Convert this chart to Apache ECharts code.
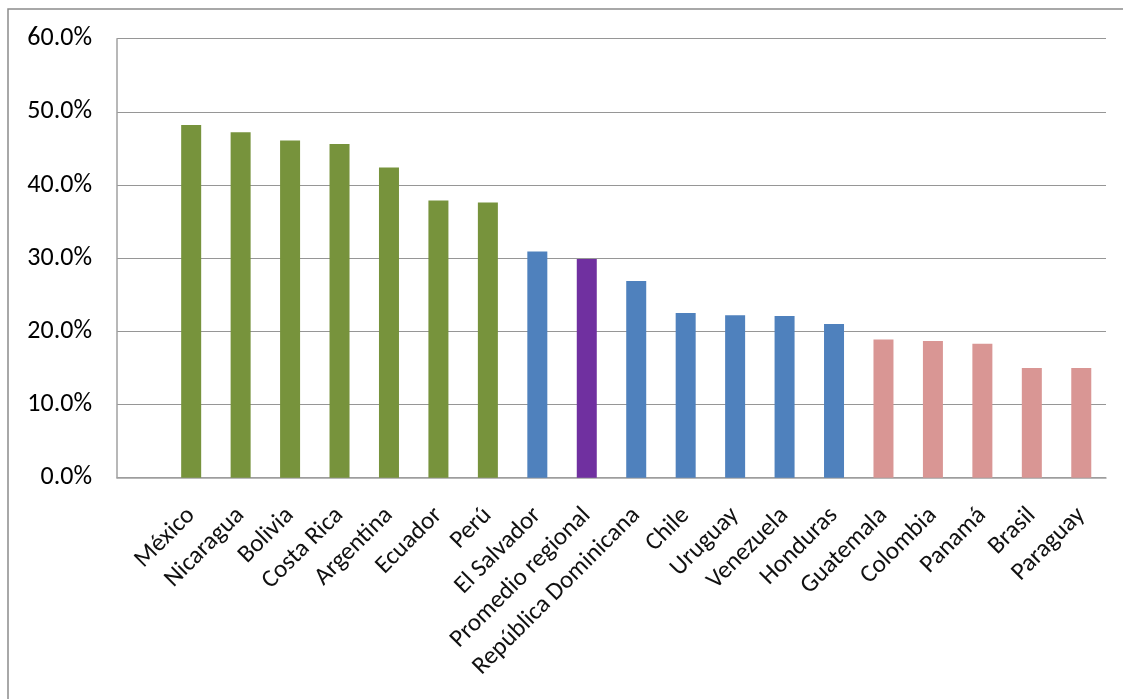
<!DOCTYPE html>
<html>
<head>
<meta charset="utf-8">
<script src="https://cdn.jsdelivr.net/npm/echarts@6/dist/echarts.min.js"></script>
<style>
html,body{margin:0;padding:0;background:#fff;}
#chart{width:1123px;height:699px;}
</style>
</head>
<body>
<div id="chart"></div>
<script>
// Categories (the source chart has a blank leading category slot)
const categories = ['', 'México', 'Nicaragua', 'Bolivia', 'Costa Rica', 'Argentina', 'Ecuador', 'Perú',
  'El Salvador', 'Promedio regional', 'República Dominicana', 'Chile', 'Uruguay', 'Venezuela',
  'Honduras', 'Guatemala', 'Colombia', 'Panamá', 'Brasil', 'Paraguay'];
// Values in percent
const values = [null, 48.2, 47.2, 46.1, 45.6, 42.4, 37.9, 37.6,
  30.9, 29.9, 26.9, 22.5, 22.2, 22.1,
  21.0, 18.9, 18.7, 18.3, 15.0, 15.0];
// Group of each category: high, mid, avg, low
const groups = [null, 'high', 'high', 'high', 'high', 'high', 'high', 'high',
  'mid', 'avg', 'mid', 'mid', 'mid', 'mid',
  'mid', 'low', 'low', 'low', 'low', 'low'];
const yTicks = [0, 10, 20, 30, 40, 50, 60];

const groupColors = { high: '#77933C', mid: '#4F81BD', avg: '#7030A0', low: '#D99694' };
const FONT = "Carlito, Calibri, 'Open Sans', sans-serif";

const chart = echarts.init(document.getElementById('chart'), null, { renderer: 'canvas' });
chart.setOption({
  animation: false,
  backgroundColor: '#ffffff',
  graphic: [{
    type: 'rect',
    shape: { x: 8, y: 9, width: 1300, height: 900 },
    style: { fill: 'none', stroke: '#8c8c8c', lineWidth: 1.5 },
    silent: true
  }],
  grid: { left: 117, right: 17, top: 38.7, bottom: 221.3, containLabel: false },
  xAxis: {
    type: 'category',
    data: categories,
    boundaryGap: true,
    axisLine: { show: true, lineStyle: { color: '#a0a0a0', width: 1.5 } },
    axisTick: { show: false },
    axisLabel: {
      interval: 0,
      rotate: 45,
      margin: 34,
      fontFamily: FONT,
      fontSize: 25,
      color: '#111'
    },
    splitLine: { show: false }
  },
  yAxis: {
    type: 'value',
    min: yTicks[0],
    max: yTicks[yTicks.length - 1],
    interval: 10,
    axisLine: { show: true, lineStyle: { color: '#a0a0a0', width: 1.5 } },
    axisTick: { show: false },
    axisLabel: {
      margin: 25,
      fontFamily: FONT,
      fontSize: 26,
      color: '#000',
      formatter: v => v.toFixed(1) + '%'
    },
    splitLine: { show: true, lineStyle: { color: '#969696', width: 1.2 } }
  },
  series: [{
    type: 'bar',
    barWidth: 20,
    data: values.map((v, i) => ({
      value: v,
      itemStyle: { color: groups[i] ? groupColors[groups[i]] : '#000' }
    }))
  }]
});
</script>
</body>
</html>
